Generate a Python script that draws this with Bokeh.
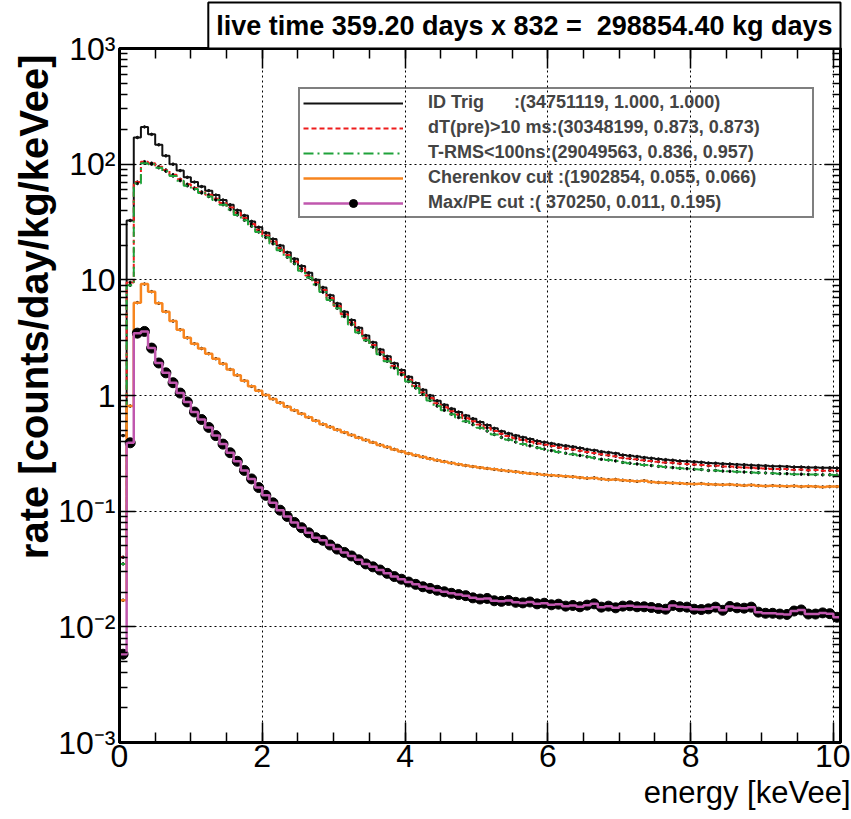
import numpy as np
from bokeh.plotting import figure
from bokeh.models import (Range1d, FixedTicker, SingleIntervalTicker, LinearAxis, LogAxis,
                          Title, Legend, LegendItem, CustomJSTickFormatter)
from bokeh.embed import file_html
from bokeh.resources import INLINE

# ---------------- data (rate per 0.1 keVee bin, 0 .. 10.1 keVee) ----------------
bin_width = 0.1
x_lo, x_hi = 0.0, 10.1
y_lo, y_hi = 1e-3, 1e3

id_trig = [0.45, 32.6, 170, 210, 181, 147, 118, 100, 88, 77,
           70, 64, 59, 54, 49, 44.5, 40, 36, 32, 28.5,
           25.5, 22.5, 19.8, 17.3, 15.2, 13.2, 11.5, 10.0, 8.6, 7.35,
           6.25, 5.3, 4.5, 3.85, 3.3, 2.88, 2.5, 2.18, 1.9, 1.66,
           1.45, 1.28, 1.12, 1.0, 0.9, 0.83, 0.77, 0.72, 0.67, 0.63,
           0.59, 0.555, 0.52, 0.49, 0.47, 0.45, 0.435, 0.42, 0.405, 0.395,
           0.385, 0.375, 0.368, 0.36, 0.352, 0.342, 0.336, 0.327, 0.322, 0.316,
           0.306, 0.302, 0.297, 0.291, 0.287, 0.283, 0.279, 0.276, 0.272, 0.27,
           0.267, 0.265, 0.261, 0.26, 0.257, 0.256, 0.253, 0.252, 0.25, 0.248,
           0.247, 0.245, 0.244, 0.243, 0.241, 0.241, 0.239, 0.239, 0.237, 0.237,
           0.236]

dt_pre = [0.04, 9.5, 70, 105, 102, 95, 89, 81, 74, 67,
          62.3, 57.6, 54.3, 50.2, 46.1, 42.3, 38.0, 34.2, 30.4, 27.1,
          24.2, 21.4, 18.8, 16.4, 14.4, 12.5, 10.9, 9.5, 8.17, 6.98,
          5.94, 5.03, 4.27, 3.66, 3.13, 2.73, 2.37, 2.07, 1.8, 1.57,
          1.37, 1.21, 1.06, 0.95, 0.855, 0.79, 0.73, 0.684, 0.636, 0.598,
          0.561, 0.527, 0.494, 0.466, 0.447, 0.428, 0.413, 0.399, 0.385, 0.375,
          0.366, 0.356, 0.348, 0.341, 0.333, 0.324, 0.318, 0.31, 0.305, 0.299,
          0.29, 0.286, 0.281, 0.276, 0.272, 0.268, 0.264, 0.262, 0.258, 0.256,
          0.253, 0.251, 0.247, 0.247, 0.243, 0.243, 0.24, 0.239, 0.237, 0.235,
          0.234, 0.232, 0.231, 0.231, 0.228, 0.229, 0.226, 0.227, 0.224, 0.225,
          0.224]

t_rms = [0.035, 9.0, 68, 102, 100, 93, 87, 79, 72, 65,
         61, 56.3, 52.5, 49.1, 44.6, 40.5, 36.4, 32.8, 29.1, 25.9,
         23.2, 20.5, 18.0, 15.7, 13.8, 12.0, 10.5, 9.1, 7.83, 6.69,
         5.69, 4.82, 4.1, 3.5, 3.0, 2.62, 2.27, 1.98, 1.73, 1.51,
         1.32, 1.16, 1.02, 0.905, 0.81, 0.745, 0.69, 0.645, 0.598, 0.56,
         0.525, 0.493, 0.46, 0.434, 0.415, 0.396, 0.381, 0.367, 0.354, 0.344,
         0.334, 0.325, 0.317, 0.311, 0.303, 0.295, 0.289, 0.281, 0.277, 0.272,
         0.264, 0.26, 0.256, 0.251, 0.248, 0.244, 0.241, 0.238, 0.235, 0.233,
         0.23, 0.229, 0.225, 0.225, 0.222, 0.221, 0.219, 0.218, 0.216, 0.215,
         0.214, 0.213, 0.211, 0.211, 0.209, 0.209, 0.208, 0.207, 0.206, 0.206,
         0.205]

cherenkov = [0.017, 0.81, 6.35, 9.2, 7.9, 6.27, 5.3, 4.4, 3.7, 3.15,
             2.8, 2.55, 2.3, 2.08, 1.88, 1.68, 1.5, 1.34, 1.2, 1.1,
             1.01, 0.935, 0.865, 0.8, 0.745, 0.695, 0.648, 0.605, 0.565, 0.535,
             0.505, 0.48, 0.455, 0.432, 0.412, 0.393, 0.374, 0.358, 0.342, 0.328,
             0.315, 0.304, 0.294, 0.284, 0.276, 0.268, 0.261, 0.254, 0.248, 0.243,
             0.238, 0.234, 0.23, 0.226, 0.222, 0.219, 0.215, 0.212, 0.21, 0.206,
             0.204, 0.202, 0.2, 0.198, 0.195, 0.193, 0.194, 0.19, 0.187, 0.188,
             0.185, 0.183, 0.181, 0.183, 0.179, 0.177, 0.176, 0.175, 0.174, 0.173,
             0.172, 0.173, 0.171, 0.17, 0.169, 0.17, 0.168, 0.167, 0.168, 0.166,
             0.165, 0.166, 0.165, 0.164, 0.165, 0.163, 0.164, 0.163, 0.162, 0.163,
             0.163]

max_pe = [0.0058, 0.39, 3.46, 3.58, 2.57, 1.91, 1.57, 1.29, 1.05, 0.88,
          0.72, 0.62, 0.53, 0.45, 0.38, 0.32, 0.27, 0.225, 0.19, 0.16,
          0.137, 0.118, 0.102, 0.09, 0.08, 0.072, 0.065, 0.059, 0.056, 0.051,
          0.047, 0.044, 0.041, 0.038, 0.035, 0.033, 0.031, 0.029, 0.0272, 0.0258,
          0.0244, 0.0233, 0.0222, 0.0215, 0.0207, 0.0201, 0.0195, 0.019, 0.0186, 0.0178,
          0.0174, 0.0176, 0.0168, 0.0166, 0.0169, 0.0163, 0.0161, 0.0164, 0.0158, 0.016,
          0.0155, 0.0157, 0.0151, 0.0153, 0.0149, 0.0154, 0.0158, 0.0148, 0.0151, 0.0146,
          0.0151, 0.0152, 0.0149, 0.0149, 0.0147, 0.0144, 0.0142, 0.0153, 0.0149, 0.0148,
          0.0142, 0.0141, 0.0143, 0.0148, 0.0139, 0.0150, 0.0146, 0.0145, 0.0148, 0.0134,
          0.0131, 0.0131, 0.0129, 0.0128, 0.0137, 0.0140, 0.0129, 0.0129, 0.0132, 0.0130,
          0.0121]

series_labels = [
    "ID Trig\u00a0\u00a0\u00a0\u00a0\u00a0\u00a0:(34751119, 1.000, 1.000)",
    "dT(pre)>10 ms:(30348199, 0.873, 0.873)",
    "T-RMS<100ns:(29049563, 0.836, 0.957)",
    "Cherenkov cut :(1902854, 0.055, 0.066)",
    "Max/PE cut :( 370250, 0.011, 0.195)",
]
series_values = [id_trig, dt_pre, t_rms, cherenkov, max_pe]
series_colors = ["#111111", "#ee1c1c", "#1fa23a", "#f7851e", "#c057ae"]
series_dash = ["solid", "5 3", "10 4 2 4", "solid", "solid"]
series_width = [2, 2, 2, 2.5, 2.5]
marker_size = [2.5, 2.5, 2.5, 2.5, 10]

y_tick_values = [1e-3, 1e-2, 1e-1, 1, 10, 100, 1000]
y_tick_labels = ["10\u207b\u00b3", "10\u207b\u00b2", "10\u207b\u00b9", "1", "10", "10\u00b2", "10\u00b3"]

title_text = "live time 359.20 days x 832 =\u00a0\u00a0298854.40 kg days"
x_title = "energy [keVee]"
y_title = "rate [counts/day/kg/keVee]"

FONT = "Liberation Sans"

# ---------------- figure ----------------
p = figure(width=850, height=819,
           x_range=Range1d(x_lo, x_hi), y_range=Range1d(y_lo, y_hi),
           y_axis_type="log", output_backend="svg", toolbar_location=None,
           min_border_left=119, min_border_right=10, min_border_top=44, min_border_bottom=77,
           background_fill_color="white", border_fill_color="white",
           outline_line_color="black", outline_line_width=3)

# header box (plot title, outermost above the frame)
p.title = Title(text=title_text, align="right", text_font=FONT, text_font_style="bold",
                text_font_size="27px", text_color="black", background_fill_color="white",
                border_line_color="black", border_line_width=2, padding=8, standoff=0,
                offset=0)

x_ticker = SingleIntervalTicker(interval=2, num_minor_ticks=4)
minor_y = [k * 10.0 ** n for n in range(-3, 3) for k in range(2, 10)]
y_ticker = FixedTicker(ticks=y_tick_values, minor_ticks=minor_y)

p.xaxis.ticker = x_ticker
p.yaxis.ticker = y_ticker
p.yaxis.major_label_overrides = {v: l for v, l in zip(y_tick_values, y_tick_labels)}

for ax in (p.xaxis[0], p.yaxis[0]):
    ax.major_tick_out = 0
    ax.minor_tick_out = 0
    ax.axis_line_width = 3
    ax.major_tick_line_width = 1.5
    ax.minor_tick_line_width = 1.5
    ax.major_label_text_font = FONT
    ax.major_label_text_font_size = "32px"
    ax.major_label_text_color = "black"
p.xaxis.major_tick_in = 20
p.xaxis.minor_tick_in = 10
p.yaxis.major_tick_in = 16
p.yaxis.minor_tick_in = 8
p.xaxis.major_label_standoff = 2
p.yaxis.major_label_standoff = 4

blank = CustomJSTickFormatter(code="return ''")
top_axis = LinearAxis(ticker=x_ticker, formatter=blank)
right_axis = LogAxis(ticker=y_ticker, formatter=blank)
for ax, tin, mtin in ((top_axis, 20, 10), (right_axis, 16, 8)):
    ax.major_tick_out = 0
    ax.minor_tick_out = 0
    ax.major_tick_in = tin
    ax.minor_tick_in = mtin
    ax.axis_line_width = 3
    ax.major_tick_line_width = 1.5
    ax.minor_tick_line_width = 1.5
    ax.major_label_text_font_size = "2px"
    ax.major_label_text_color = None
    ax.major_label_standoff = 0
p.add_layout(top_axis, "above")
p.add_layout(right_axis, "right")

# axis titles in the side panels
p.add_layout(Title(text=x_title, align="right", vertical_align="top", text_font=FONT,
                   text_font_style="normal", text_font_size="31px", text_color="black",
                   standoff=10, offset=-10),
             "below")
p.add_layout(Title(text=y_title, align="right", text_font=FONT, text_font_style="bold",
                   text_font_size="40px", text_color="black", standoff=0, offset=6),
             "left")

for g in (p.xgrid[0], p.ygrid[0]):
    g.grid_line_color = "black"
    g.grid_line_dash = "2 3"
    g.grid_line_width = 1
p.ygrid.ticker = y_ticker
p.ygrid.minor_grid_line_color = None

# ---------------- histograms ----------------
n_bins = len(id_trig)
edges = x_lo + bin_width * np.arange(n_bins + 1)
centers = edges[:-1] + bin_width / 2

items = []
for vals, lab, col, dash, lw, ms in zip(series_values, series_labels, series_colors,
                                          series_dash, series_width, marker_size):
    xs = np.concatenate([[edges[0]], edges])
    ys = np.concatenate([[y_lo], vals, [vals[-1]]])
    mk = p.scatter(centers, vals, size=ms, color="black", marker="circle")
    ln = p.step(xs, ys, mode="after", line_color=col, line_width=lw, line_dash=dash)
    items.append(LegendItem(label=lab, renderers=[ln, mk] if ms > 5 else [ln]))

legend = Legend(items=items, location=(179, 524), orientation="vertical",
                border_line_color="black", border_line_width=2,
                background_fill_alpha=0, label_text_font=FONT,
                label_text_font_style="bold", label_text_font_size="18px",
                glyph_width=100, glyph_height=20, label_height=20, spacing=4,
                padding=3, label_standoff=25, margin=0, label_width=381)
p.add_layout(legend)

open("out.html", "w").write(file_html(p, INLINE))
